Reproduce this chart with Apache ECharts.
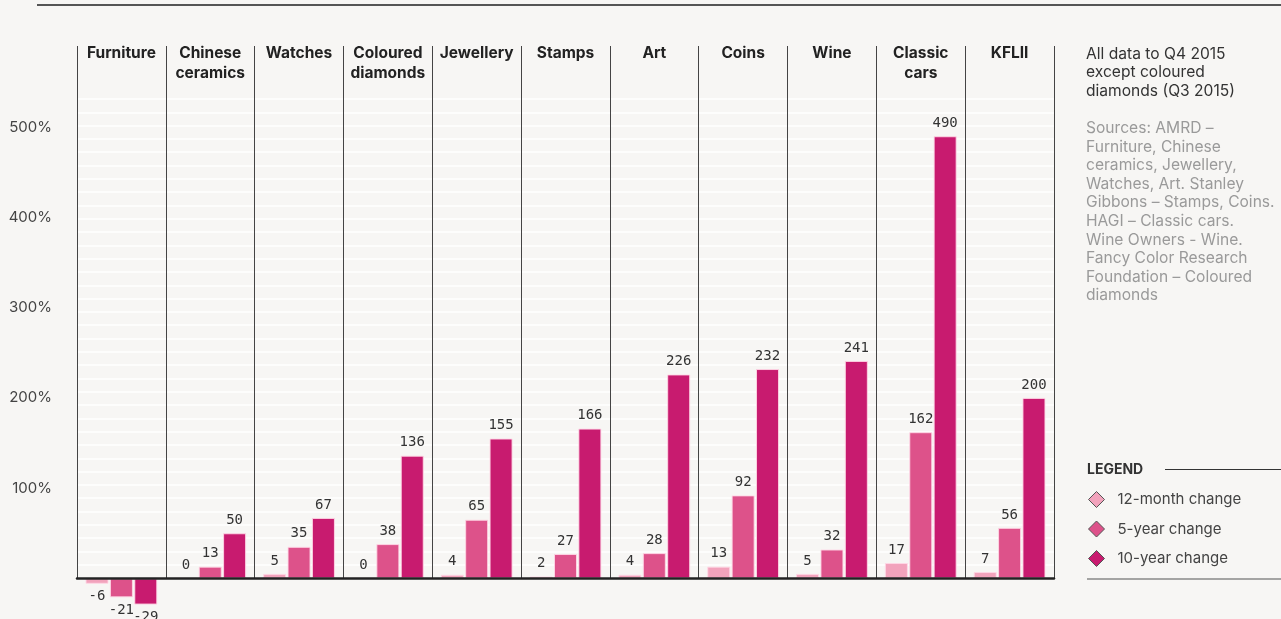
<!DOCTYPE html>
<html>
<head>
<meta charset="utf-8">
<script src="https://cdn.jsdelivr.net/npm/echarts@6/dist/echarts.min.js"></script>
<style>
html,body{margin:0;padding:0;background:#f7f6f4;}
#main{width:1281px;height:619px;}
</style>
</head>
<body>
<div id="main"></div>
<script>
const categories = ['Furniture','Chinese ceramics','Watches','Coloured diamonds','Jewellery','Stamps','Art','Coins','Wine','Classic cars','KFLII'];
const change12m = [-6, 0, 5, 0, 4, 2, 4, 13, 5, 17, 7];
const change5y  = [-21, 13, 35, 38, 65, 27, 28, 92, 32, 162, 56];
const change10y = [-29, 50, 67, 136, 155, 166, 226, 232, 241, 490, 200];
const seriesNames = ['12-month change','5-year change','10-year change'];
const yTicks = [100, 200, 300, 400, 500];
const noteText = 'All data to Q4 2015\nexcept coloured\ndiamonds (Q3 2015)';
const sourcesText = 'Sources: AMRD –\nFurniture, Chinese\nceramics, Jewellery,\nWatches, Art. Stanley\nGibbons – Stamps, Coins.\nHAGI – Classic cars.\nWine Owners - Wine.\nFancy Color Research\nFoundation – Coloured\ndiamonds';

const colors = ['#f2a3bc', '#dd528a', '#c81b6f'];
const SANS = 'Inter, Roboto, sans-serif';
const MONO = '"DejaVu Sans Mono", monospace';

const chart = echarts.init(document.getElementById('main'));

function barSeries(name, data, idx) {
  return {
    name: name,
    type: 'bar',
    xAxisIndex: 0,
    yAxisIndex: 0,
    data: data.map(v => ({ value: v, label: { position: v < 0 ? 'bottom' : 'top' } })),
    barWidth: 23,
    barGap: '6%',
    clip: false,
    z: 5,
    itemStyle: { color: colors[idx], borderColor: 'rgba(255,215,230,0.9)', borderWidth: 1 },
    label: {
      show: true,
      distance: 6,
      fontFamily: MONO,
      fontSize: 14,
      color: '#333'
    }
  };
}

const option = {
  backgroundColor: '#f7f6f4',
  animation: false,
  textStyle: { fontFamily: SANS },
  title: [
    { text: noteText, left: 1081, top: 40,
      textStyle: { fontFamily: SANS, fontSize: 15.6, fontWeight: 'normal', color: '#333', lineHeight: 18.5 } },
    { text: sourcesText, left: 1081, top: 114,
      textStyle: { fontFamily: SANS, fontSize: 15.6, fontWeight: 'normal', color: '#9a9a9a', lineHeight: 18.6 } },
    { text: 'LEGEND', left: 1082, top: 458,
      textStyle: { fontFamily: SANS, fontSize: 14, fontWeight: 'bold', color: '#333' } }
  ],
  legend: {
    data: seriesNames,
    orient: 'vertical',
    left: 1083,
    top: 486,
    itemWidth: 16,
    itemHeight: 16,
    itemGap: 12.5,
    icon: 'diamond',
    itemStyle: { borderColor: '#555', borderWidth: 1 },
    textStyle: { fontFamily: SANS, fontSize: 15, color: '#444', padding: [0, 0, 0, 8] }
  },
  graphic: [
    { type: 'line', shape: { x1: 37, y1: 5, x2: 1281, y2: 5 }, style: { stroke: '#555', lineWidth: 2 } },
    { type: 'line', shape: { x1: 1165, y1: 469.5, x2: 1281, y2: 469.5 }, style: { stroke: '#333', lineWidth: 1 } },
    { type: 'line', shape: { x1: 1087, y1: 579, x2: 1281, y2: 579 }, style: { stroke: '#888', lineWidth: 1.5 } }
  ],
  grid: [
    { left: 77, right: 227, top: 46, bottom: 0 },
    { left: 77, right: 227, top: 46, bottom: 41 },
    { left: 77, right: 227, top: 99, bottom: 41 }
  ],
  xAxis: [
    { type: 'category', gridIndex: 0, data: categories,
      axisLine: { show: true, onZero: true, lineStyle: { color: '#222', width: 2.5 } },
      axisTick: { show: false }, axisLabel: { show: false }, splitLine: { show: false }, z: 6 },
    { type: 'category', gridIndex: 1, data: categories, position: 'top',
      axisLine: { show: false }, axisTick: { show: false },
      axisLabel: { show: true, inside: true, interval: 0, margin: -3,
        fontFamily: SANS, fontSize: 15.5, fontWeight: 'bold', color: '#222', lineHeight: 20,
        formatter: v => v.replace(' ', '\n') },
      splitLine: { show: true, interval: 0, lineStyle: { color: '#444', width: 1 } } },
    { type: 'category', gridIndex: 2, data: categories, show: false }
  ],
  yAxis: [
    { type: 'value', gridIndex: 0, min: -45, max: 590, minInterval: 100, maxInterval: 100,
      axisLine: { show: false }, axisTick: { show: false }, splitLine: { show: false },
      axisLabel: { show: true, margin: 25, fontFamily: SANS, fontSize: 15, color: '#444',
        formatter: v => (yTicks.indexOf(v) >= 0 ? v + '%' : '') } },
    { type: 'value', gridIndex: 1, show: false, min: 0, max: 1 },
    { type: 'value', gridIndex: 2, min: 0, max: 36, interval: 1,
      axisLine: { show: false }, axisTick: { show: false }, axisLabel: { show: false },
      splitLine: { show: true, lineStyle: { color: '#ffffff', width: 1.5 } } }
  ],
  series: [
    barSeries(seriesNames[0], change12m, 0),
    barSeries(seriesNames[1], change5y, 1),
    barSeries(seriesNames[2], change10y, 2)
  ]
};
chart.setOption(option);
</script>
</body>
</html>
